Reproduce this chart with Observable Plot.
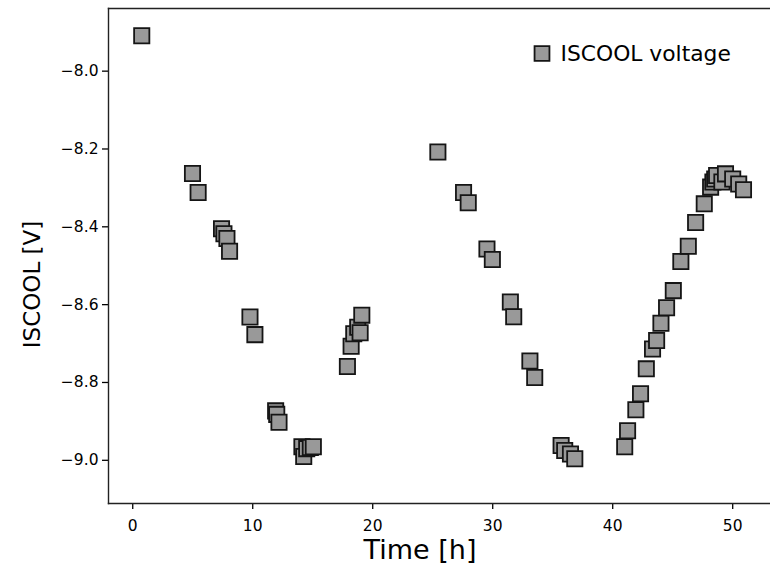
<!DOCTYPE html>
<html><head><meta charset="utf-8">
<script src="https://cdn.jsdelivr.net/npm/d3@7"></script>
<script src="https://cdn.jsdelivr.net/npm/@observablehq/plot@0.6"></script>
<style>
html,body{margin:0;padding:0;background:#fff;}
#chart{position:relative;width:770px;height:570px;overflow:hidden;}
</style></head><body><div id="chart"></div>
<script>
const timeH = [0.75, 4.98, 5.45, 7.4, 7.6, 7.85, 8.07, 9.77, 10.18, 11.91, 12.0, 12.19,
  14.1, 14.25, 14.5, 14.8, 15.05, 17.89, 18.2, 18.42, 18.75, 18.95, 19.09,
  25.43, 27.57, 27.96, 29.52, 29.97, 31.47, 31.75, 33.1, 33.5,
  35.7, 36.0, 36.48, 36.84,
  41.0, 41.24, 41.93, 42.32, 42.8, 43.32, 43.66, 44.02, 44.49, 45.05, 45.68, 46.3, 46.91, 47.63,
  48.16, 48.35, 48.5, 48.66, 49.1, 49.4, 50.0, 50.5, 50.9];
const voltage = [-7.909, -8.263, -8.312, -8.405, -8.418, -8.43, -8.463, -8.632, -8.677, -8.873, -8.882, -8.902,
  -8.965, -8.99, -8.97, -8.967, -8.965, -8.759, -8.707, -8.675, -8.658, -8.672, -8.627,
  -8.208, -8.312, -8.338, -8.457, -8.484, -8.593, -8.631, -8.745, -8.787,
  -8.962, -8.975, -8.984, -8.996,
  -8.965, -8.924, -8.870, -8.829, -8.765, -8.714, -8.692, -8.648, -8.608, -8.564, -8.489, -8.45, -8.389, -8.341,
  -8.298, -8.285, -8.277, -8.268, -8.285, -8.264, -8.277, -8.29, -8.305];
const xTicks = [0, 10, 20, 30, 40, 50];
const yTicks = [-8.0, -8.2, -8.4, -8.6, -8.8, -9.0];
const seriesName = "ISCOOL voltage";
const xLabel = "Time [h]";
const yLabel = "ISCOOL [V]";

const data = timeH.map((t, i) => ({t, v: voltage[i]}));
const font = "'DejaVu Sans', Verdana, sans-serif";
const markerStyle = {symbol: "square", r: 8.6, fill: "#999999", stroke: "#151515", strokeWidth: 1.8};

const plot = Plot.plot({
  width: 770, height: 570,
  marginLeft: 108, marginTop: 8, marginBottom: 67, marginRight: 0,
  style: {fontFamily: font, background: "#fff", color: "#000", overflow: "visible"},
  x: {domain: [-2.02, 53.15]},
  y: {domain: [-9.111, -7.839]},
  marks: [
    Plot.axisX({ticks: xTicks, tickSize: 6, tickPadding: 10, fontSize: 15.5, label: null,
      tickFormat: d3.format("d"), strokeWidth: 1.3}),
    Plot.axisY({ticks: yTicks, tickSize: 6, tickPadding: 4, fontSize: 15.5, label: null,
      tickFormat: d3.format(".1f"), strokeWidth: 1.3}),
    Plot.frame({anchor: "left", stroke: "#222", strokeWidth: 1.4}),
    Plot.frame({anchor: "top", stroke: "#222", strokeWidth: 1.4}),
    Plot.frame({anchor: "bottom", stroke: "#222", strokeWidth: 1.4}),
    Plot.dot(data, {x: "t", y: "v", ...markerStyle}),
    Plot.dot([seriesName], {frameAnchor: "top-left", dx: 433.5, dy: 45, ...markerStyle, r: 8.4}),
    Plot.text([seriesName], {frameAnchor: "top-left", dx: 452, dy: 46, text: d => d,
      textAnchor: "start", lineAnchor: "middle", fontSize: 21.8, fill: "#000"}),
    Plot.text([yLabel], {frameAnchor: "left", rotate: -90, dx: -76, dy: 28.5, text: d => d,
      fontSize: 23, fill: "#000", textAnchor: "middle", lineAnchor: "middle"}),
    Plot.text([xLabel], {frameAnchor: "bottom", dx: -19.5, dy: 46.7, text: d => d,
      fontSize: 27, fill: "#000", textAnchor: "middle", lineAnchor: "middle"})
  ]
});
document.getElementById("chart").appendChild(plot);
</script></body></html>
